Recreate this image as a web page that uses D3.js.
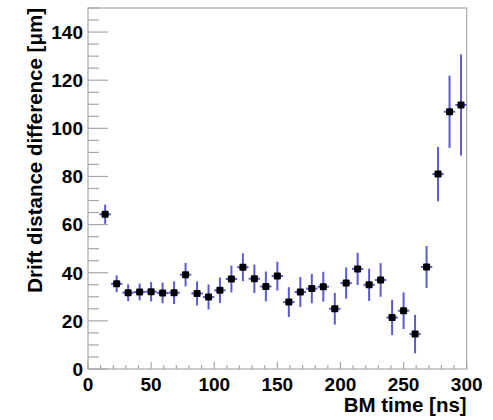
<!DOCTYPE html>
<html>
<head>
<meta charset="utf-8">
<script src="https://cdn.jsdelivr.net/npm/d3@7"></script>
<style>
  html, body { margin: 0; padding: 0; background: #fff; }
  svg { display: block; }
  text { font-family: "Liberation Sans", Arial, Helvetica, sans-serif; font-weight: bold; fill: #000; }
</style>
</head>
<body>
<svg id="chart" width="493" height="420"></svg>
<script>
// ---- data ----
const binCenters = [13.6, 22.7, 31.8, 40.9, 50.0, 59.1, 68.2, 77.3, 86.4, 95.5, 104.5,
  113.6, 122.7, 131.8, 140.9, 150.0, 159.1, 168.2, 177.3, 186.4, 195.5, 204.5,
  213.6, 222.7, 231.8, 240.9, 250.0, 259.1, 268.2, 277.3, 286.4, 295.5];
const driftDiff = [64.3, 35.4, 31.7, 32.0, 32.1, 31.6, 31.7, 39.2, 31.4, 29.9, 32.7,
  37.4, 42.3, 37.5, 34.3, 38.6, 27.8, 32.0, 33.4, 34.2, 25.0, 35.7,
  41.6, 35.0, 37.0, 21.4, 24.2, 14.5, 42.4, 81.0, 106.9, 109.7];
const driftErr = [4.0, 3.5, 3.5, 3.5, 4.0, 4.3, 4.7, 4.9, 5.0, 5.2, 5.3,
  5.6, 5.8, 5.9, 6.2, 6.0, 6.2, 6.2, 6.1, 6.2, 6.6, 6.5,
  6.7, 6.7, 7.0, 7.3, 7.6, 8.0, 8.7, 11.3, 15.0, 21.0];
const binHalfWidth = 4.5;
const xTicks = [0, 50, 100, 150, 200, 250, 300];
const yTicks = [0, 20, 40, 60, 80, 100, 120, 140];
const xTitle = "BM time [ns]";
const yTitle = "Drift distance difference [\u03bcm]";

const points = binCenters.map((x, i) => ({ x, y: driftDiff[i], e: driftErr[i] }));

// ---- layout ----
const L = 88, R = 466.7, T = 8, B = 369;
const svg = d3.select("#chart");
const x = d3.scaleLinear().domain([0, 300]).range([L, R]);
const y = d3.scaleLinear().domain([0, 150]).range([B, T]);

const frameColor = "#a8a8a8";

// frame
svg.append("rect")
  .attr("x", L).attr("y", T).attr("width", R - L).attr("height", B - T)
  .attr("fill", "none").attr("stroke", frameColor).attr("stroke-width", 1.2);

// y axis ticks
const yMinor = d3.range(0, 150.1, 5);
svg.append("g").selectAll("line").data(yMinor).join("line")
  .attr("x1", L).attr("x2", d => L + (d % 20 === 0 ? 20 : 11))
  .attr("y1", d => y(d)).attr("y2", d => y(d))
  .attr("stroke", frameColor).attr("stroke-width", 1.2);
svg.append("g").selectAll("text").data(yTicks).join("text")
  .attr("x", L - 5).attr("y", d => y(d)).attr("dy", "0.36em")
  .attr("text-anchor", "end").attr("font-size", 19)
  .text(d => d);

// x axis ticks
const xMinor = d3.range(0, 300.1, 10);
svg.append("g").selectAll("line").data(xMinor).join("line")
  .attr("x1", d => x(d)).attr("x2", d => x(d))
  .attr("y1", B).attr("y2", d => B - (d % 50 === 0 ? 7 : 4))
  .attr("stroke", frameColor).attr("stroke-width", 1.2);
svg.append("g").selectAll("text").data(xTicks).join("text")
  .attr("x", d => x(d)).attr("y", 390.5)
  .attr("text-anchor", "middle").attr("font-size", 19)
  .text(d => d);

// titles
svg.append("text")
  .attr("x", R).attr("y", 411.5).attr("text-anchor", "end")
  .attr("font-size", 20.5).text(xTitle);
svg.append("text")
  .attr("transform", `translate(41.5, ${T}) rotate(-90)`)
  .attr("text-anchor", "end").attr("font-size", 20.5).text(yTitle);

// error bars
const errColor = "#5a5ad2";
const g = svg.append("g");
g.selectAll("line.v").data(points).join("line").attr("class", "v")
  .attr("x1", d => x(d.x)).attr("x2", d => x(d.x))
  .attr("y1", d => y(d.y - d.e)).attr("y2", d => y(d.y + d.e))
  .attr("stroke", errColor).attr("stroke-width", 2);
g.selectAll("line.h").data(points).join("line").attr("class", "h")
  .attr("x1", d => x(d.x - binHalfWidth)).attr("x2", d => x(d.x + binHalfWidth))
  .attr("y1", d => y(d.y)).attr("y2", d => y(d.y))
  .attr("stroke", errColor).attr("stroke-width", 2);

// markers
const ms = 7;
g.selectAll("rect").data(points).join("rect")
  .attr("x", d => x(d.x) - ms / 2).attr("y", d => y(d.y) - ms / 2)
  .attr("width", ms).attr("height", ms).attr("rx", 1)
  .attr("fill", "#000");
</script>
</body>
</html>
